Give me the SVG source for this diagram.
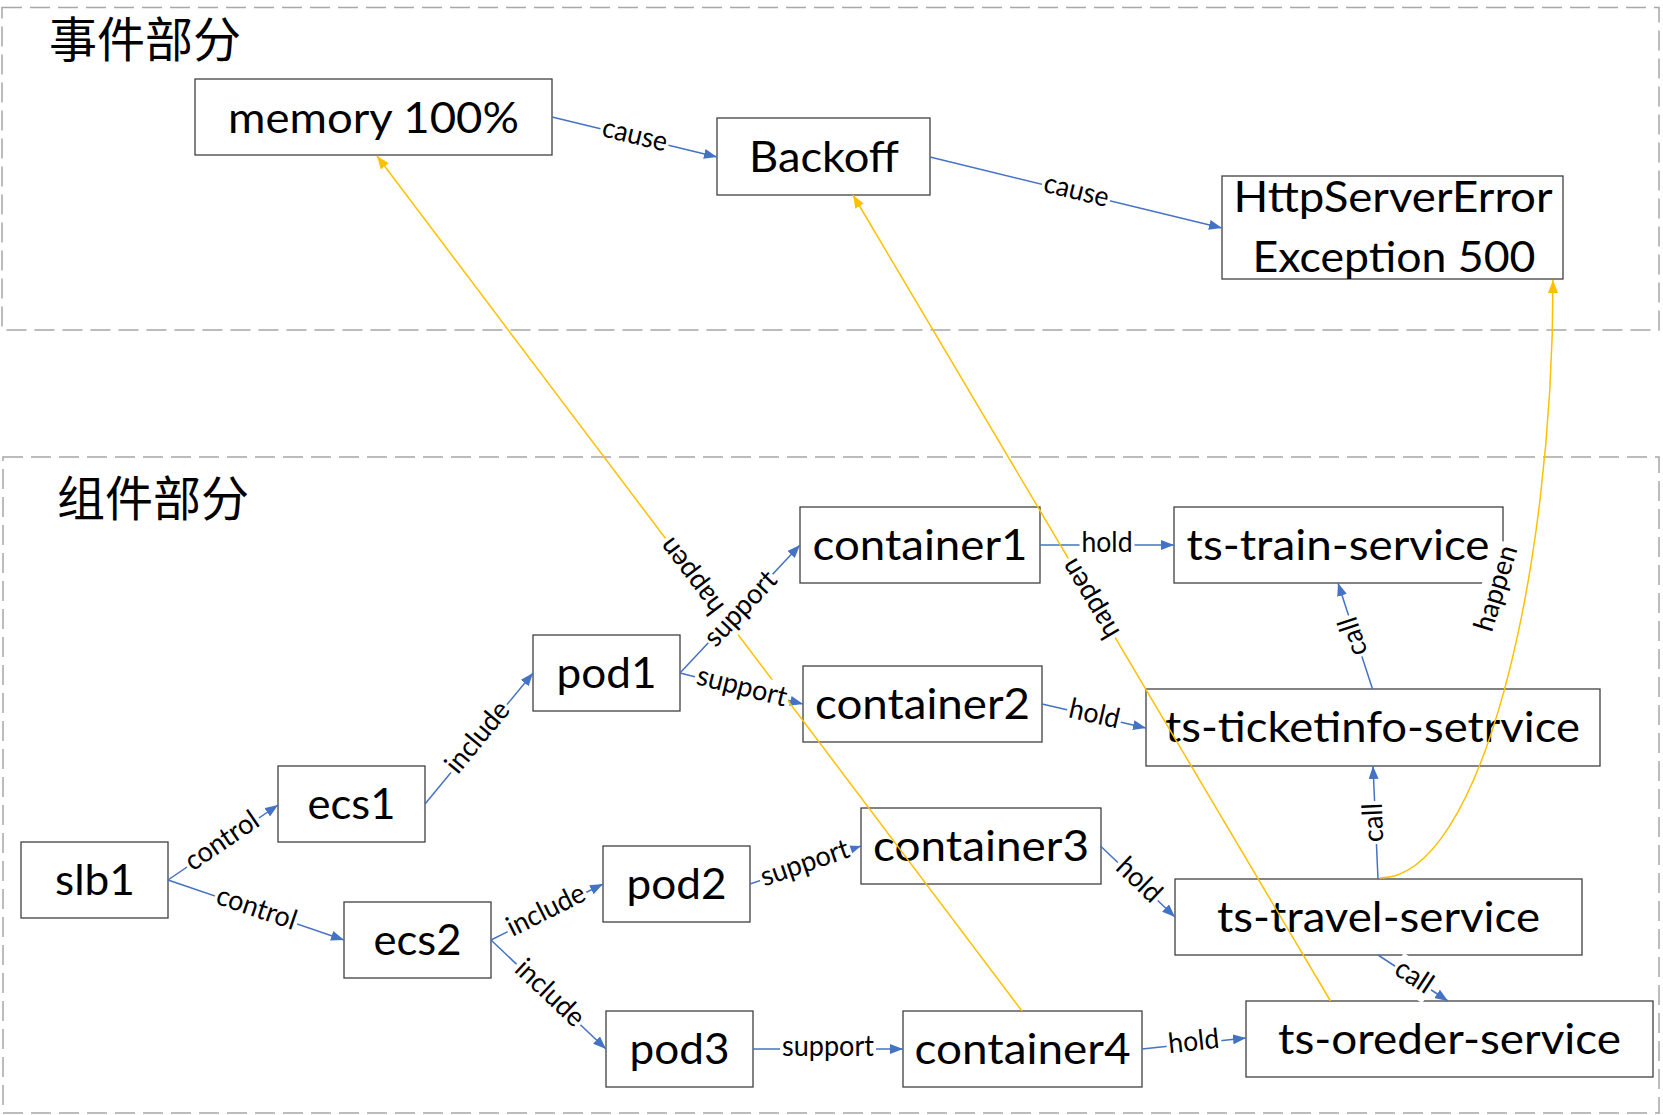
<svg xmlns="http://www.w3.org/2000/svg" width="1663" height="1115" viewBox="0 0 1663 1115">
<style>
.grp{fill:none;stroke:#A6A6A6;stroke-width:1.5;stroke-dasharray:20 8}
.tt{font-family:"Noto Sans CJK SC","Noto Sans CJK JP",sans-serif;font-size:48px;fill:#000}
.box{fill:#fff;stroke:#404040;stroke-width:1.3}
.nt{font-family:Lato,"Noto Sans",sans-serif;font-size:43px;fill:#000;text-anchor:middle}
.lt{font-family:Lato,"Noto Sans",sans-serif;font-size:28px;fill:#000;text-anchor:middle}
.lbg{fill:#fff}
.b{stroke:#4472C4;stroke-width:1.5;fill:none;marker-end:url(#ab)}
.y{stroke:#FFC000;stroke-width:1.5;fill:none;marker-end:url(#ay)}
</style>
<defs>
<marker id="ab" markerUnits="userSpaceOnUse" markerWidth="13" markerHeight="10" refX="13" refY="5" orient="auto"><path d="M0,0 L13,5 L0,10 z" fill="#4472C4"/></marker>
<marker id="ay" markerUnits="userSpaceOnUse" markerWidth="13" markerHeight="10" refX="13" refY="5" orient="auto"><path d="M0,0 L13,5 L0,10 z" fill="#FFC000"/></marker>
</defs>
<rect width="1663" height="1115" fill="#fff"/>
<g id="group-event">
<rect class="grp" x="2" y="7.5" width="1657" height="322.5"/>
<text class="tt" x="49" y="57">事件部分</text>
</g>
<g id="group-component">
<rect class="grp" x="3" y="457" width="1656" height="656"/>
<text class="tt" x="57" y="516">组件部分</text>
</g>
<g id="nodes">
<g id="memory"><rect class="box" x="195" y="79" width="357" height="76"/><text class="nt" x="373.5" y="132.5" textLength="291" lengthAdjust="spacingAndGlyphs">memory 100%</text></g>
<g id="backoff"><rect class="box" x="717" y="118" width="213" height="77"/><text class="nt" x="824" y="171.5" textLength="150" lengthAdjust="spacingAndGlyphs">Backoff</text></g>
<g id="http500"><rect class="box" x="1222" y="176" width="341" height="103"/><text class="nt" x="1393" y="212" textLength="319" lengthAdjust="spacingAndGlyphs">HttpServerError</text><text class="nt" x="1394" y="271.5" textLength="283" lengthAdjust="spacingAndGlyphs">Exception 500</text></g>
<g id="slb1"><rect class="box" x="21" y="842" width="147" height="76"/><text class="nt" x="95" y="895" textLength="80" lengthAdjust="spacingAndGlyphs">slb1</text></g>
<g id="ecs1"><rect class="box" x="278" y="766" width="147" height="76"/><text class="nt" x="351.5" y="819" textLength="88" lengthAdjust="spacingAndGlyphs">ecs1</text></g>
<g id="ecs2"><rect class="box" x="344" y="902" width="147" height="76"/><text class="nt" x="417.5" y="954.5" textLength="88" lengthAdjust="spacingAndGlyphs">ecs2</text></g>
<g id="pod1"><rect class="box" x="533" y="635" width="147" height="76"/><text class="nt" x="606.5" y="687.5" textLength="100" lengthAdjust="spacingAndGlyphs">pod1</text></g>
<g id="pod2"><rect class="box" x="603" y="846" width="147" height="76"/><text class="nt" x="676.5" y="898.5" textLength="100" lengthAdjust="spacingAndGlyphs">pod2</text></g>
<g id="pod3"><rect class="box" x="606" y="1011" width="147" height="76"/><text class="nt" x="679.5" y="1063.5" textLength="100" lengthAdjust="spacingAndGlyphs">pod3</text></g>
<g id="container1"><rect class="box" x="800" y="507" width="240" height="76"/><text class="nt" x="920" y="559.5" textLength="215" lengthAdjust="spacingAndGlyphs">container1</text></g>
<g id="container2"><rect class="box" x="803" y="666" width="239" height="76"/><text class="nt" x="922.5" y="718.5" textLength="215" lengthAdjust="spacingAndGlyphs">container2</text></g>
<g id="container3"><rect class="box" x="861" y="808" width="240" height="76"/><text class="nt" x="981" y="860.5" textLength="216" lengthAdjust="spacingAndGlyphs">container3</text></g>
<g id="container4"><rect class="box" x="903" y="1011" width="239" height="76"/><text class="nt" x="1022.5" y="1063.5" textLength="216" lengthAdjust="spacingAndGlyphs">container4</text></g>
<g id="ts-train-service"><rect class="box" x="1174" y="507" width="329" height="76"/><text class="nt" x="1338" y="559.5" textLength="303" lengthAdjust="spacingAndGlyphs">ts-train-service</text></g>
<g id="ts-ticketinfo-setrvice"><rect class="box" x="1146" y="689" width="454" height="77"/><text class="nt" x="1372.5" y="742" textLength="415" lengthAdjust="spacingAndGlyphs">ts-ticketinfo-setrvice</text></g>
<g id="ts-travel-service"><rect class="box" x="1175" y="879" width="407" height="76"/><text class="nt" x="1378.5" y="931.5" textLength="323" lengthAdjust="spacingAndGlyphs">ts-travel-service</text></g>
<g id="ts-oreder-service"><rect class="box" x="1246" y="1001" width="407" height="76"/><text class="nt" x="1449.5" y="1053.5" textLength="343" lengthAdjust="spacingAndGlyphs">ts-oreder-service</text></g>
</g>
<g id="connectors">
<path class="b" d="M552,117 L717,157"/>
<path class="b" d="M930,157 L1222,228"/>
<path class="b" d="M168,880 L278,805"/>
<path class="b" d="M168,880 L344,940"/>
<path class="b" d="M425,804 L533,673"/>
<path class="b" d="M491,940 L603,884"/>
<path class="b" d="M491,940 L606,1049"/>
<path class="b" d="M680,673 L800,545"/>
<path class="b" d="M680,673 L803,704"/>
<path class="b" d="M750,884 L861,846"/>
<path class="b" d="M753,1049 L903,1049"/>
<path class="b" d="M1040,545 L1174,545"/>
<path class="b" d="M1042,704 L1146,728"/>
<path class="b" d="M1100.5,846 L1175,917"/>
<path class="b" d="M1142,1049 L1246,1038"/>
<path class="b" d="M1372.5,689 L1338,583"/>
<path class="b" d="M1378,879 L1373,766"/>
<path class="b" d="M1378,955 L1448,1001"/>
<path class="y" d="M1022,1011 L377,156"/>
<path class="y" d="M1330.5,1001 L853,195"/>
<path class="y" d="M1380,878 C1480,878 1553,579 1553,280"/>
<g transform="translate(693,575) rotate(-127)"><rect class="lbg" x="-46" y="-16" width="92" height="32"/><text class="lt" y="7" textLength="88" lengthAdjust="spacingAndGlyphs">happen</text></g>
<g transform="translate(1091.75,598) rotate(-120.6)"><rect class="lbg" x="-46" y="-16" width="92" height="32"/><text class="lt" y="7" textLength="88" lengthAdjust="spacingAndGlyphs">happen</text></g>
<g transform="translate(1498,589) rotate(-73)"><rect class="lbg" x="-47" y="-17" width="94" height="34"/><text class="lt" y="7" textLength="88" lengthAdjust="spacingAndGlyphs">happen</text></g>
<g transform="translate(634.5,137) rotate(13.6)"><rect class="lbg" x="-35" y="-16" width="70" height="32"/><text class="lt" y="7" textLength="66" lengthAdjust="spacingAndGlyphs">cause</text></g>
<g transform="translate(1076,192.5) rotate(13.7)"><rect class="lbg" x="-35" y="-16" width="70" height="32"/><text class="lt" y="7" textLength="66" lengthAdjust="spacingAndGlyphs">cause</text></g>
<g transform="translate(223,842.5) rotate(-34.3)"><rect class="lbg" x="-43.5" y="-16" width="87" height="32"/><text class="lt" y="7" textLength="83" lengthAdjust="spacingAndGlyphs">control</text></g>
<g transform="translate(256,910) rotate(18.8)"><rect class="lbg" x="-43.5" y="-16" width="87" height="32"/><text class="lt" y="7" textLength="83" lengthAdjust="spacingAndGlyphs">control</text></g>
<g transform="translate(479,738.5) rotate(-50.5)"><rect class="lbg" x="-44" y="-16" width="88" height="32"/><text class="lt" y="7" textLength="84" lengthAdjust="spacingAndGlyphs">include</text></g>
<g transform="translate(547,912) rotate(-26.6)"><rect class="lbg" x="-44" y="-16" width="88" height="32"/><text class="lt" y="7" textLength="84" lengthAdjust="spacingAndGlyphs">include</text></g>
<g transform="translate(548.5,994.5) rotate(43.5)"><rect class="lbg" x="-44" y="-16" width="88" height="32"/><text class="lt" y="7" textLength="84" lengthAdjust="spacingAndGlyphs">include</text></g>
<g transform="translate(742,610) rotate(-46.8)"><rect class="lbg" x="-47" y="-14" width="94" height="28"/><text class="lt" y="7" textLength="92" lengthAdjust="spacingAndGlyphs">support</text></g>
<g transform="translate(741.5,688.5) rotate(14.1)"><rect class="lbg" x="-48" y="-16" width="96" height="32"/><text class="lt" y="7" textLength="92" lengthAdjust="spacingAndGlyphs">support</text></g>
<g transform="translate(805.5,865) rotate(-18.9)"><rect class="lbg" x="-48" y="-16" width="96" height="32"/><text class="lt" y="7" textLength="92" lengthAdjust="spacingAndGlyphs">support</text></g>
<g transform="translate(828,1049)"><rect class="lbg" x="-48" y="-16" width="96" height="32"/><text class="lt" y="7" textLength="92" lengthAdjust="spacingAndGlyphs">support</text></g>
<g transform="translate(1107,545)"><rect class="lbg" x="-27.5" y="-16" width="55" height="32"/><text class="lt" y="7" textLength="51" lengthAdjust="spacingAndGlyphs">hold</text></g>
<g transform="translate(1094,716) rotate(13)"><rect class="lbg" x="-27.5" y="-16" width="55" height="32"/><text class="lt" y="7" textLength="51" lengthAdjust="spacingAndGlyphs">hold</text></g>
<g transform="translate(1137.7,881.5) rotate(43.6)"><rect class="lbg" x="-27.5" y="-16" width="55" height="32"/><text class="lt" y="7" textLength="51" lengthAdjust="spacingAndGlyphs">hold</text></g>
<g transform="translate(1194,1043.5) rotate(-6)"><rect class="lbg" x="-27.5" y="-16" width="55" height="32"/><text class="lt" y="7" textLength="51" lengthAdjust="spacingAndGlyphs">hold</text></g>
<g transform="translate(1355,636) rotate(-108)"><rect class="lbg" x="-21.5" y="-16" width="43" height="32"/><text class="lt" y="7" textLength="39" lengthAdjust="spacingAndGlyphs">call</text></g>
<g transform="translate(1375.5,822.5) rotate(-92.5)"><rect class="lbg" x="-21.5" y="-16" width="43" height="32"/><text class="lt" y="7" textLength="39" lengthAdjust="spacingAndGlyphs">call</text></g>
<g transform="translate(1413,978) rotate(33.3)"><rect class="lbg" x="-21.5" y="-16" width="43" height="32"/><text class="lt" y="7" textLength="39" lengthAdjust="spacingAndGlyphs">call</text></g>
</g>
</svg>
